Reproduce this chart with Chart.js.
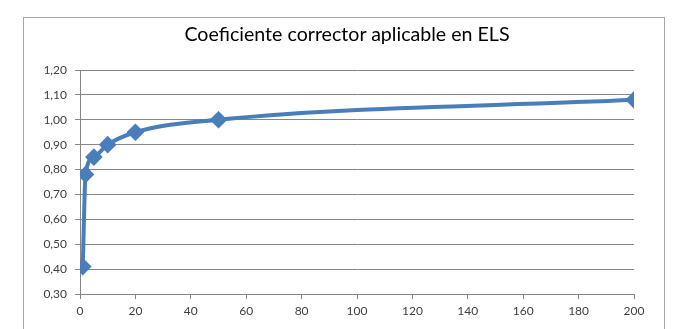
<!DOCTYPE html>
<html>
<head>
<meta charset="utf-8">
<script src="https://cdn.jsdelivr.net/npm/chart.js@4/dist/chart.umd.min.js"></script>
<style>
  html, body { margin: 0; padding: 0; background: #fff; overflow: hidden; }
  #frame { position: absolute; left: 23px; top: 17px; width: 640px; height: 400px; border: 1px solid #a6a6a6; }
  #wrap { position: absolute; left: 0; top: 0; width: 678px; height: 329px; }
  #title { position: absolute; left: 147px; width: 400px; top: 22px; text-align: center;
           font-family: Lato, 'Liberation Sans', sans-serif; font-size: 19.6px; color: #000; line-height: 24px; }
</style>
</head>
<body>
<div id="frame"></div>
<div id="wrap"><canvas id="chart" width="678" height="329"></canvas></div>
<div id="title"></div>
<script>
// Coeficiente corrector vs. x
const xValues = [1, 2, 5, 10, 20, 50, 200];
const yValues = [0.41, 0.78, 0.85, 0.90, 0.95, 1.00, 1.08];
const titleText = 'Coeficiente corrector aplicable en ELS';

document.getElementById('title').textContent = titleText;

const points = xValues.map((x, i) => ({ x: x, y: yValues[i] }));
const fmt = v => v.toFixed(2).replace('.', ',');

new Chart(document.getElementById('chart').getContext('2d'), {
    type: 'scatter',
    data: {
        datasets: [{
            data: points,
            showLine: true,
            borderColor: '#4a7ebb',
            backgroundColor: '#4a7ebb',
            borderWidth: 4,
            tension: 0.35,
            cubicInterpolationMode: 'monotone',
            pointStyle: 'rectRot',
            pointRadius: 6,
            pointHoverRadius: 6
        }]
    },
    options: {
        responsive: false,
        animation: false,
        layout: { padding: { left: 30, right: 44, top: 70, bottom: 0 } },
        plugins: {
            legend: { display: false },
            tooltip: { enabled: false },
            title: { display: false }
        },
        scales: {
            x: {
                type: 'linear',
                min: 0,
                max: 200,
                afterFit: s => { s.height = 35; },
                border: { color: '#868686', width: 1 },
                grid: { drawOnChartArea: false, drawTicks: true, tickLength: 5, color: '#868686' },
                ticks: {
                    stepSize: 20,
                    color: '#404040',
                    padding: 5,
                    font: { family: 'Lato', size: 12 }
                }
            },
            y: {
                min: 0.30,
                max: 1.20,
                afterFit: s => { s.width = 50; },
                border: { color: '#868686', width: 1 },
                grid: { color: '#868686', tickLength: 5 },
                ticks: {
                    stepSize: 0.1,
                    color: '#404040',
                    padding: 8,
                    font: { family: 'Lato', size: 12 },
                    callback: v => fmt(v)
                }
            }
        }
    }
});
</script>
</body>
</html>
